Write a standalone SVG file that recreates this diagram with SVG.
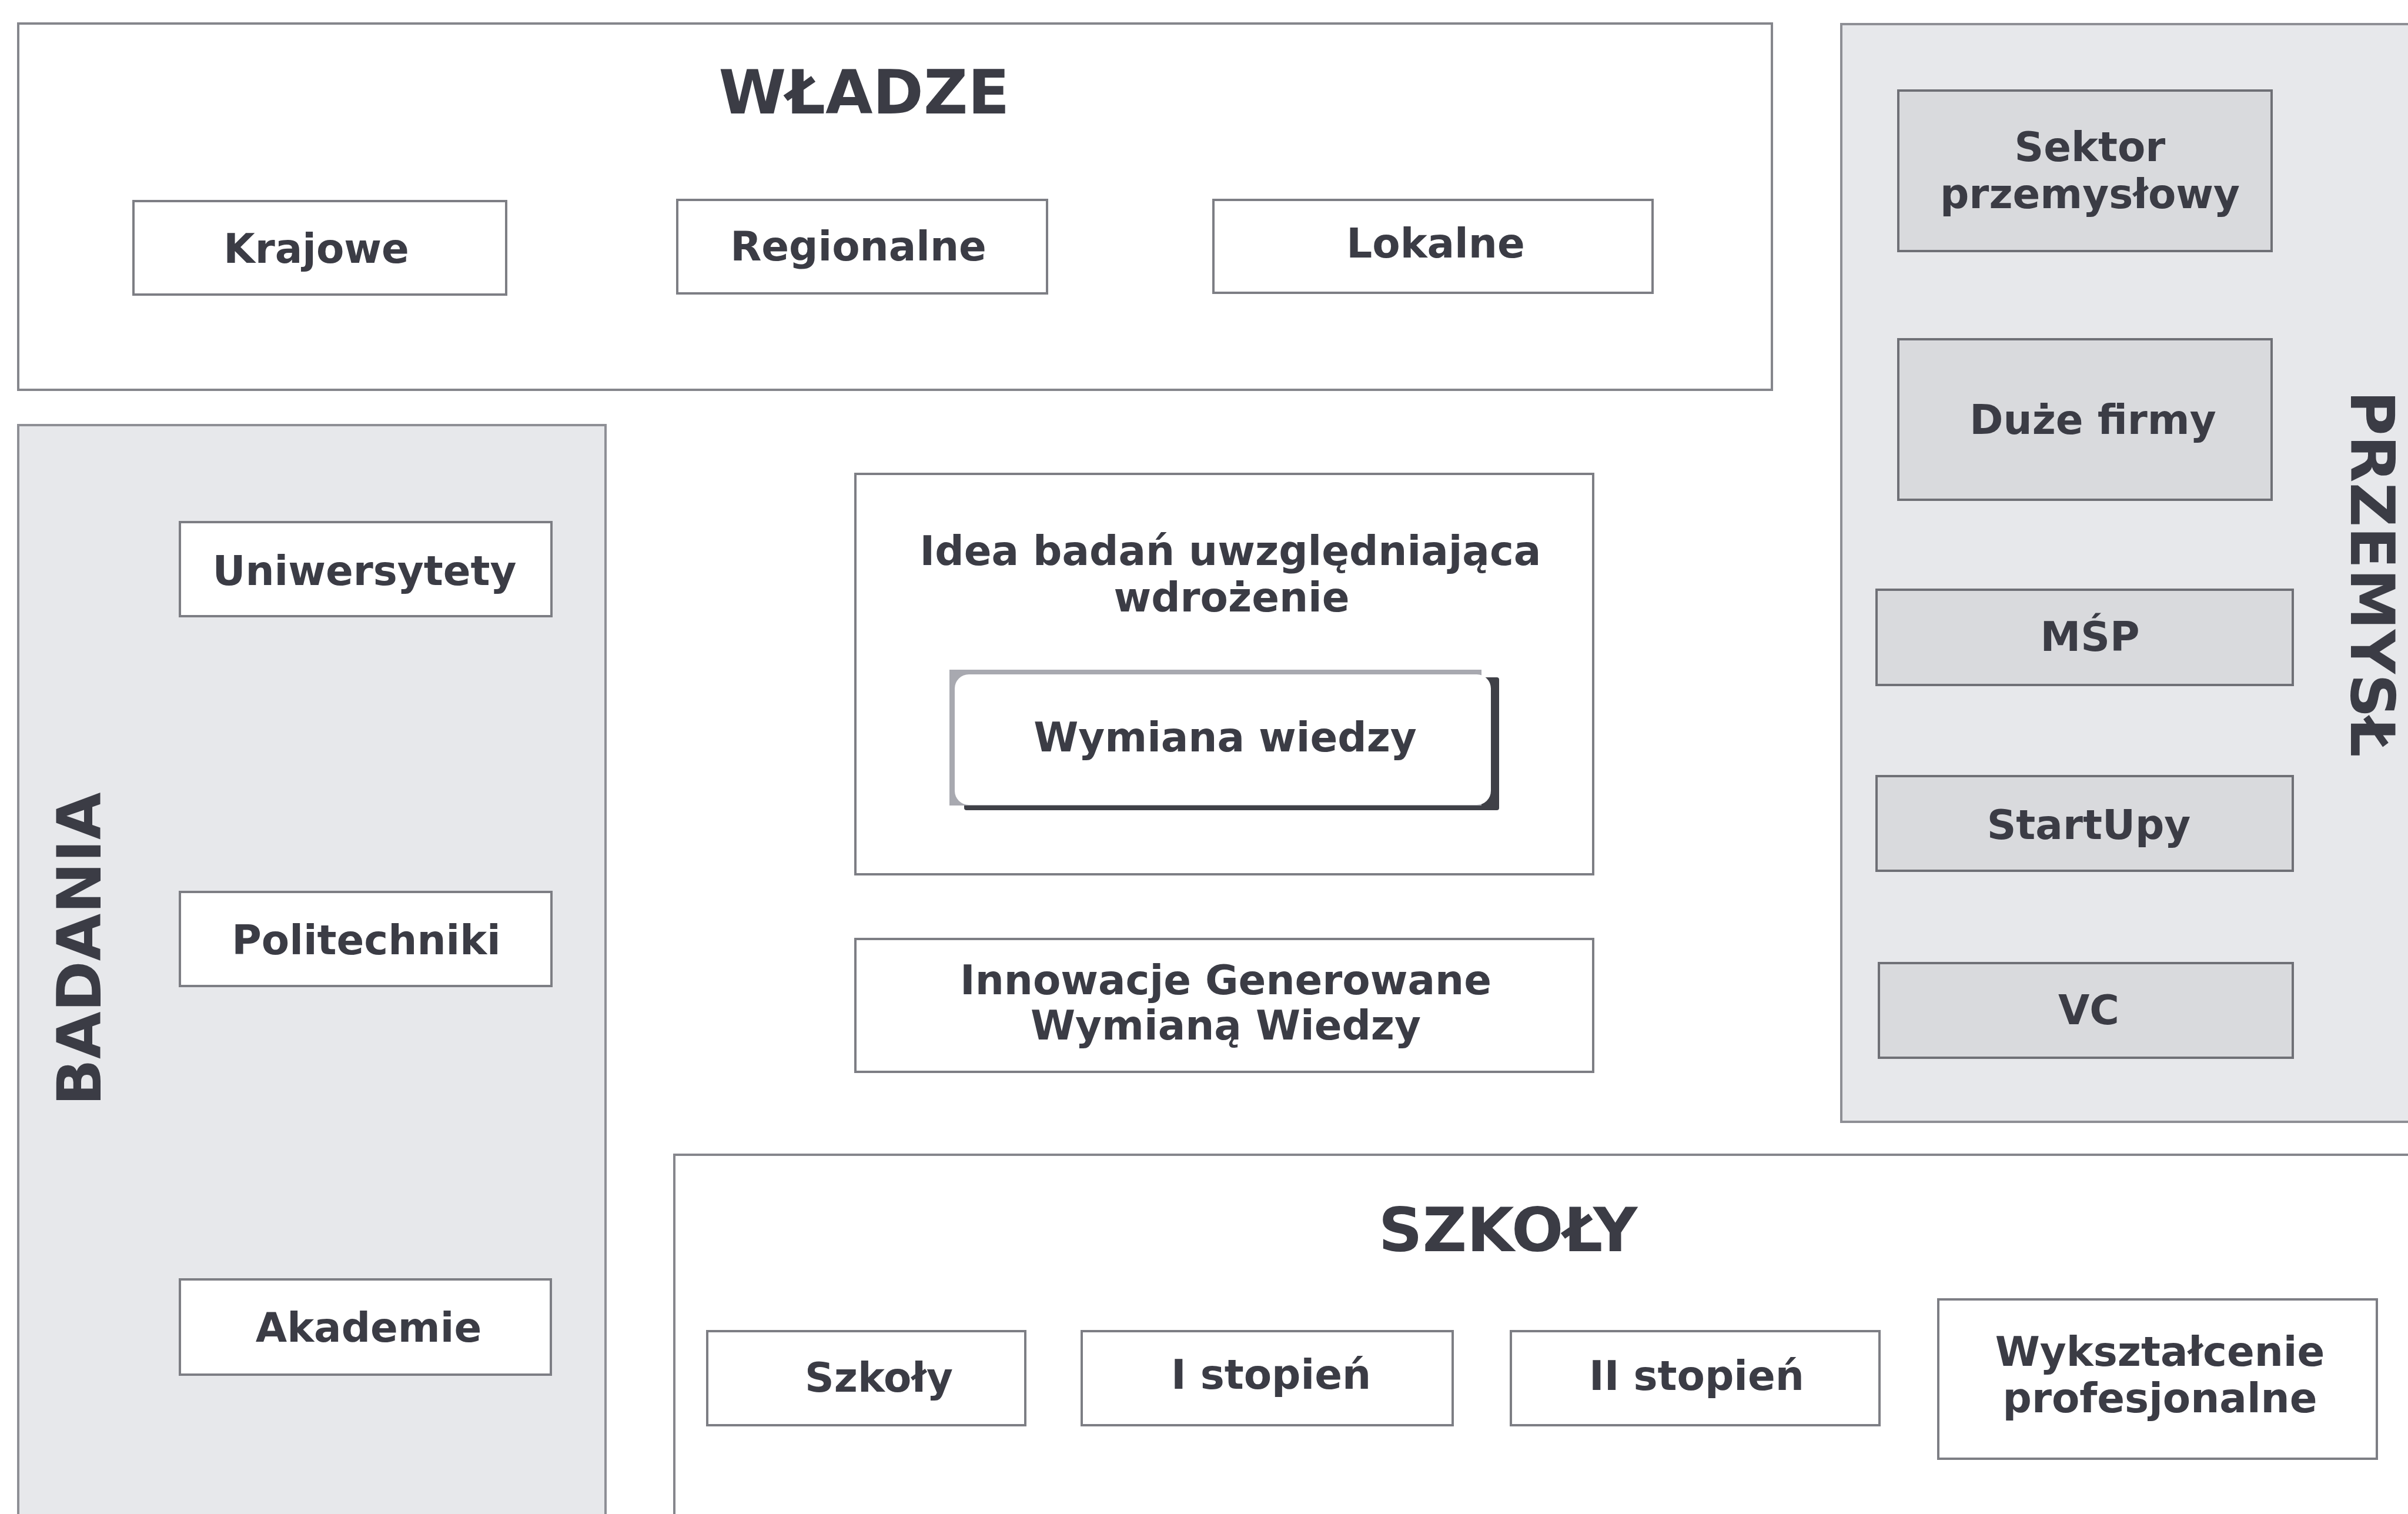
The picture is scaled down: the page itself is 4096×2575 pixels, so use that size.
<svg xmlns="http://www.w3.org/2000/svg" width="4096" height="2575" viewBox="0 0 4096 2575">
<style>
.panel{fill:#ffffff;stroke:#85868c;stroke-width:4}
.gpanel{fill:#e7e8eb;stroke:#8e8f95;stroke-width:4}
.box{fill:#ffffff;stroke:#7d7e84;stroke-width:4}
.gbox{fill:#d9dadd;stroke:#6f7076;stroke-width:4}
text{font-family:"DejaVu Sans","Liberation Sans",sans-serif;font-weight:bold;fill:#3b3c45;text-anchor:middle}
.t{font-size:69px}
.h{font-size:104px}
</style>
<rect x="0" y="0" width="4096" height="2575" fill="#ffffff"/>

<g id="wladze">
<rect class="panel" x="31" y="40" width="2983" height="623"/>
<text class="h" x="1470" y="193">WŁADZE</text>
</g>
<g id="krajowe"><rect class="box" x="227" y="342" width="634" height="159"/><text class="t" x="538" y="447">Krajowe</text></g>
<g id="regionalne"><rect class="box" x="1152" y="340" width="629" height="159"/><text class="t" x="1460" y="443">Regionalne</text></g>
<g id="lokalne"><rect class="box" x="2064" y="340" width="747" height="158"/><text class="t" x="2442" y="438">Lokalne</text></g>

<g id="badania">
<rect class="gpanel" x="31" y="723" width="999" height="1900"/>
<text class="h" transform="translate(171,1614) rotate(-90)">BADANIA</text>
</g>
<g id="uniwersytety"><rect class="box" x="306" y="888" width="632" height="160"/><text class="t" x="620" y="995">Uniwersytety</text></g>
<g id="politechniki"><rect class="box" x="306" y="1517" width="632" height="160"/><text class="t" x="623" y="1623">Politechniki</text></g>
<g id="akademie"><rect class="box" x="306" y="2176" width="631" height="162"/><text class="t" x="627" y="2282">Akademie</text></g>

<g id="idea">
<rect class="box" x="1455" y="806" width="1255" height="681"/>
<text class="t" x="2093" y="961">Idea badań uwzględniająca</text>
<text class="t" x="2095" y="1040">wdrożenie</text>
</g>
<g id="wymiana">
<rect x="1640" y="1152" width="910" height="226" rx="4" fill="#3f4047"/>
<rect x="1615" y="1139" width="905" height="231" fill="#a8a9b0"/>
<rect x="1624" y="1147" width="912" height="222" rx="24" fill="#ffffff"/>
<text class="t" x="2084" y="1278">Wymiana wiedzy</text>
</g>
<g id="innowacje">
<rect class="box" x="1455" y="1597" width="1255" height="226"/>
<text class="t" x="2085" y="1691">Innowacje Generowane</text>
<text class="t" x="2085" y="1768">Wymianą Wiedzy</text>
</g>

<g id="przemysl">
<rect class="gpanel" x="3132" y="41" width="1000" height="1867"/>
<text class="h" transform="translate(3999,976) rotate(90)">PRZEMYSŁ</text>
</g>
<g id="sektor"><rect class="gbox" x="3229" y="154" width="635" height="273"/><text class="t" x="3555" y="274">Sektor</text><text class="t" x="3555" y="354">przemysłowy</text></g>
<g id="duze"><rect class="gbox" x="3229" y="577" width="635" height="273"/><text class="t" x="3560" y="738">Duże firmy</text></g>
<g id="msp"><rect class="gbox" x="3192" y="1003" width="708" height="162"/><text class="t" x="3555" y="1107">MŚP</text></g>
<g id="startupy"><rect class="gbox" x="3192" y="1320" width="708" height="161"/><text class="t" x="3553" y="1427">StartUpy</text></g>
<g id="vc"><rect class="gbox" x="3196" y="1638" width="704" height="161"/><text class="t" x="3553" y="1742">VC</text></g>

<g id="szkoly">
<rect class="panel" x="1147" y="1964" width="3000" height="700"/>
<text class="h" x="2565" y="2128">SZKOŁY</text>
</g>
<g id="szkoly-box"><rect class="box" x="1203" y="2264" width="541" height="160"/><text class="t" x="1495" y="2367">Szkoły</text></g>
<g id="stopien1"><rect class="box" x="1840" y="2264" width="631" height="160"/><text class="t" x="2162" y="2362">I stopień</text></g>
<g id="stopien2"><rect class="box" x="2570" y="2264" width="627" height="160"/><text class="t" x="2886" y="2364">II stopień</text></g>
<g id="wyksztalcenie"><rect class="box" x="3297" y="2210" width="746" height="271"/><text class="t" x="3674" y="2323">Wykształcenie</text><text class="t" x="3674" y="2402">profesjonalne</text></g>

<g id="connectors"></g>
</svg>
